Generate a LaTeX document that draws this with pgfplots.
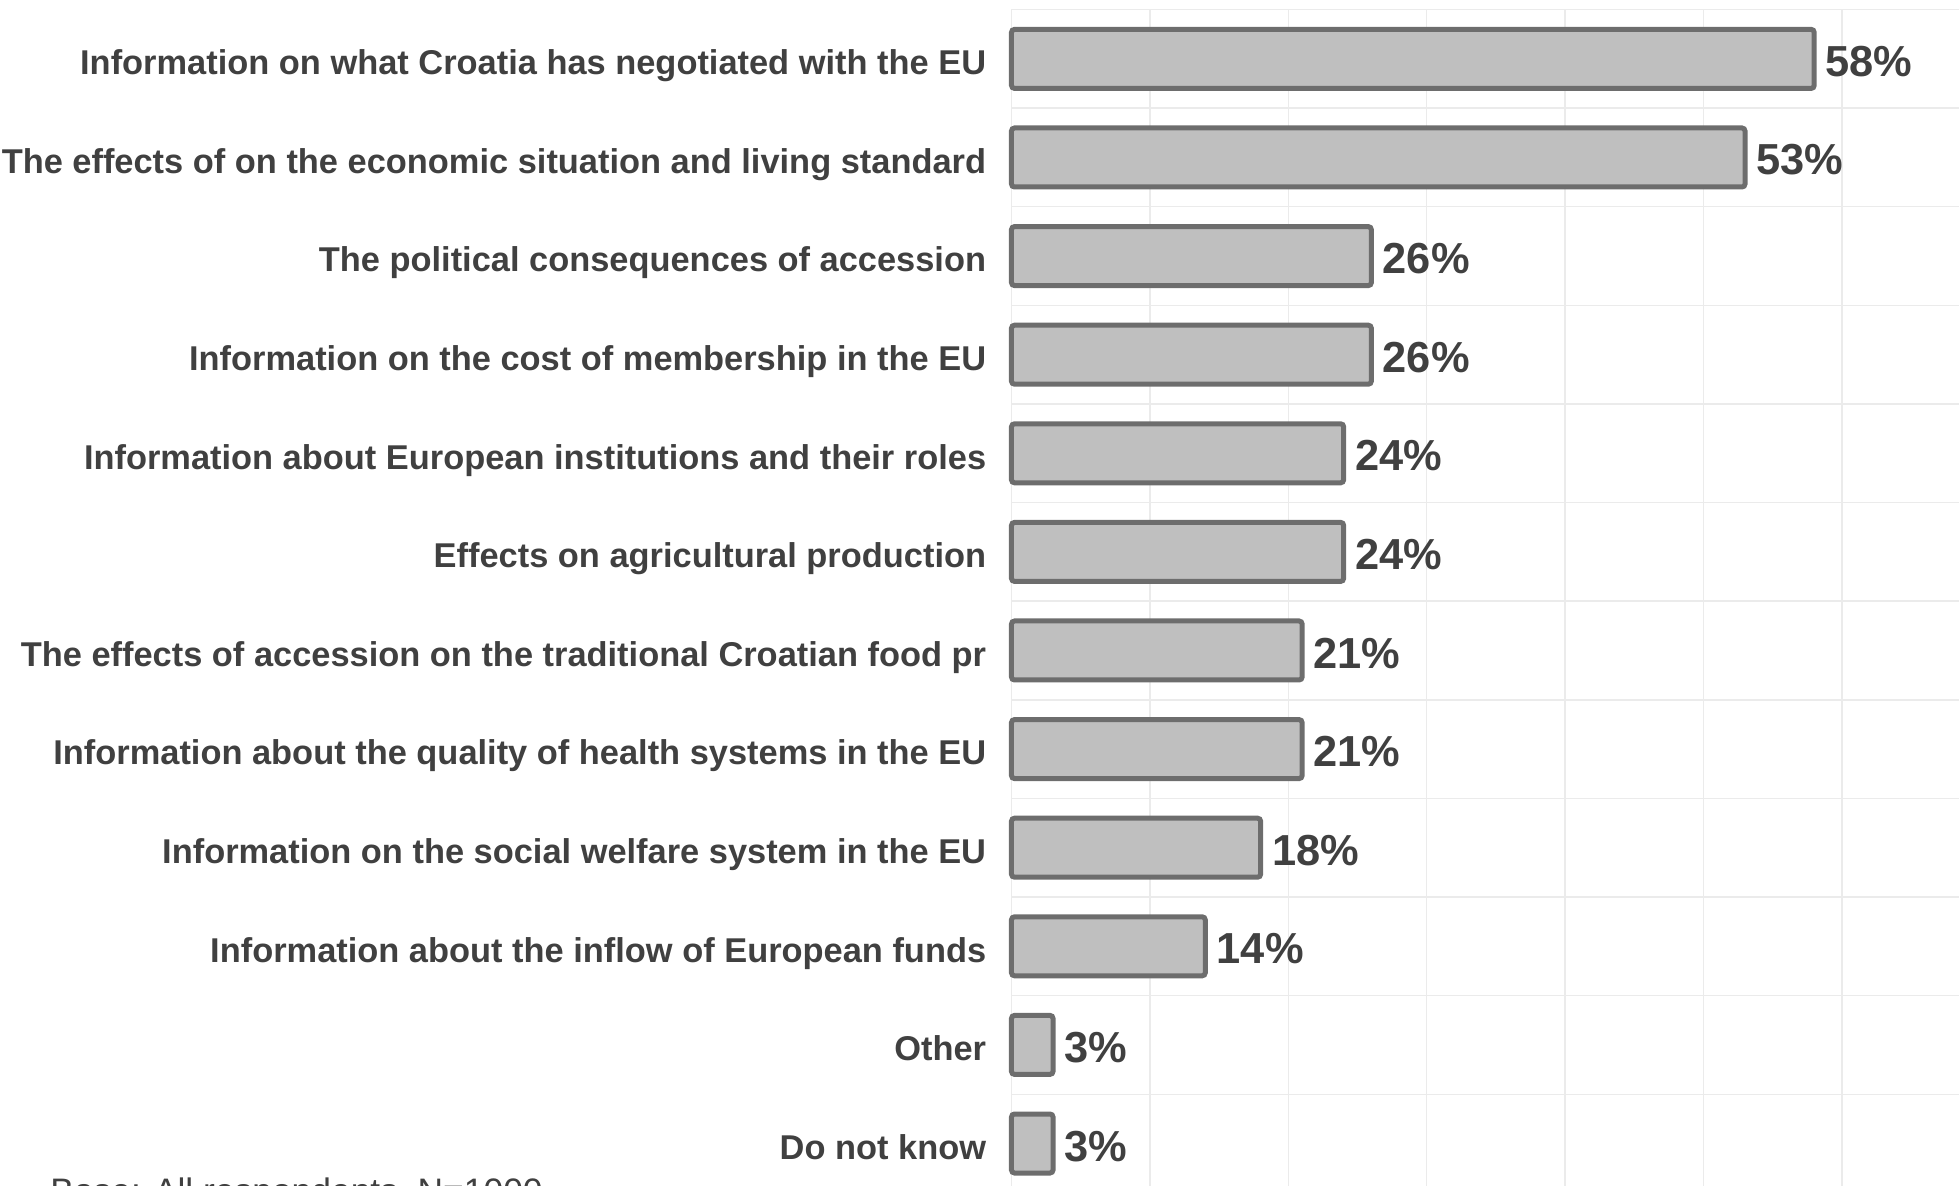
\documentclass[border=0pt]{standalone}
\usepackage{fontspec}
\setmainfont{Liberation Sans}
\usepackage{pgfplots}
\pgfplotsset{compat=1.18}
\definecolor{txt}{HTML}{404040}
\definecolor{barfill}{HTML}{BFBFBF}
\definecolor{bardraw}{HTML}{6D6D6D}
\definecolor{gridc}{HTML}{EBEBEB}
\begin{document}
\begin{tikzpicture}
\useasboundingbox (0,0) rectangle (979.5pt,593pt);
\begin{axis}[
  at={(505.75pt,-3.4pt)}, anchor=south west,
  scale only axis, width=484.4pt, height=591.6pt,
  xmin=0, xmax=70, ymin=-0.5, ymax=11.5, y dir=reverse,
  xbar, bar width=29.5pt, bar shift=0pt,
  axis line style={draw=none},
  major tick length=0pt, minor tick length=0pt,
  xtick={0,10,...,70}, xticklabels={},
  ytick={0,...,11},
  minor ytick={-0.5,0.5,...,11.5},
  xmajorgrids, yminorgrids, ymajorgrids=false,
  grid style={gridc, line width=0.7pt},
  minor grid style={gridc, line width=0.7pt},
  major grid style={gridc, line width=0.7pt},
  yticklabels={
    Information on what Croatia has negotiated with the EU,
    The effects of on the economic situation and living standard,
    The political consequences of accession,
    Information on the cost of membership in the EU,
    Information about European institutions and their roles,
    Effects on agricultural production,
    The effects of accession on the traditional Croatian food pr,
    Information about the quality of health systems in the EU,
    Information on the social welfare system in the EU,
    Information about the inflow of European funds,
    Other,
    Do not know},
  yticklabel style={font=\fontsize{17.2}{20}\selectfont\bfseries, text=txt, anchor=base east, inner sep=0pt, xshift=-12.5pt, yshift=-7.9pt},
  point meta=x,
  nodes near coords={\pgfmathprintnumber{\pgfplotspointmeta}\%},
  every node near coord/.append style={font=\fontsize{21.7}{24}\selectfont\bfseries, text=txt, anchor=base west, inner sep=0pt, xshift=4.5pt, yshift=-8.75pt},
  /pgf/number format/assume math mode=true,
  clip=false,
]
\addplot[fill=barfill, draw=bardraw, line width=2.5pt, rounded corners=1.5pt] coordinates {
  (58,0) (53,1) (26,2) (26,3) (24,4) (24,5) (21,6) (21,7) (18,8) (14,9) (3,10) (3,11)};
\end{axis}
\node[anchor=base west, inner sep=0pt, font=\fontsize{17.7}{20}\selectfont, text=txt] at (25pt,-8.7pt) {Base: All respondents, N=1000};
\end{tikzpicture}
\end{document}
